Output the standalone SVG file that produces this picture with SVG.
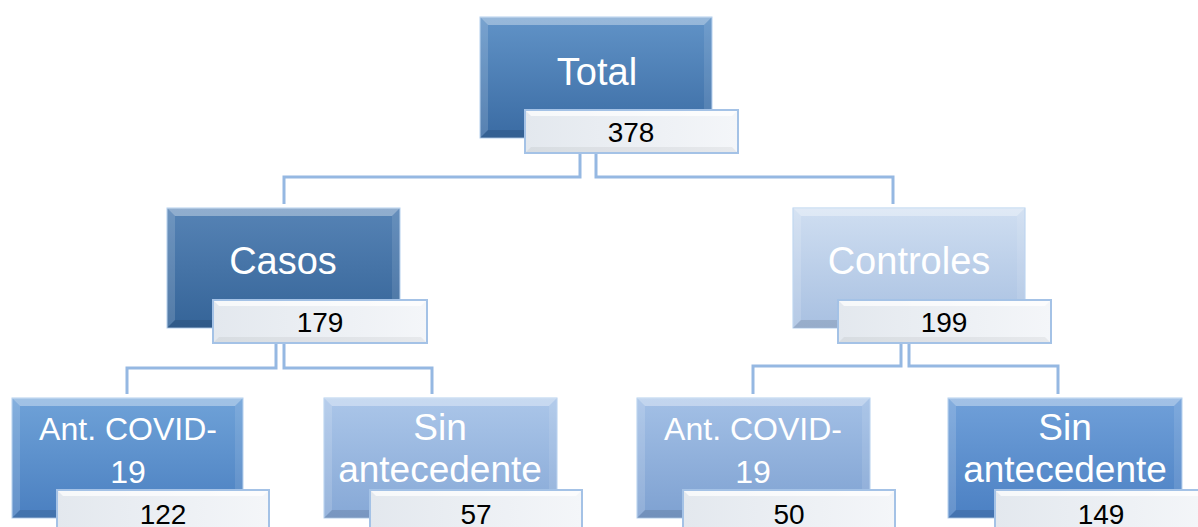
<svg xmlns="http://www.w3.org/2000/svg" width="1198" height="527" viewBox="0 0 1198 527">
<defs>
<linearGradient id="gTotal" x1="0" y1="0" x2="0" y2="1"><stop offset="0" stop-color="#6193c7"/><stop offset="1" stop-color="#3a6ba3"/></linearGradient>
<linearGradient id="gCasos" x1="0" y1="0" x2="0" y2="1"><stop offset="0" stop-color="#5683b5"/><stop offset="1" stop-color="#356498"/></linearGradient>
<linearGradient id="gCtrl" x1="0" y1="0" x2="0" y2="1"><stop offset="0" stop-color="#cfdef1"/><stop offset="1" stop-color="#a8c0e1"/></linearGradient>
<linearGradient id="gAntL" x1="0" y1="0" x2="0" y2="1"><stop offset="0" stop-color="#6fa2d8"/><stop offset="1" stop-color="#4a7fc0"/></linearGradient>
<linearGradient id="gSinM" x1="0" y1="0" x2="0" y2="1"><stop offset="0" stop-color="#abc6e9"/><stop offset="1" stop-color="#86a8d6"/></linearGradient>
<linearGradient id="gAntR" x1="0" y1="0" x2="0" y2="1"><stop offset="0" stop-color="#a3c0e6"/><stop offset="1" stop-color="#7ea1d1"/></linearGradient>
<linearGradient id="gSinR" x1="0" y1="0" x2="0" y2="1"><stop offset="0" stop-color="#70a0d9"/><stop offset="1" stop-color="#4b80c3"/></linearGradient>
<linearGradient id="gLbl" x1="0" y1="0" x2="1" y2="0"><stop offset="0" stop-color="#e3e8ee"/><stop offset="1" stop-color="#f4f6f9"/></linearGradient>
</defs>
<style>
.box{stroke:#b4cfee;stroke-width:1}
.bt{fill:#ffffff;fill-opacity:0.35}
.bl{fill:#ffffff;fill-opacity:0.15}
.br{fill:#ffffff;fill-opacity:0.10}
.bb{fill:#000000;fill-opacity:0.10}
.lbl{fill:url(#gLbl);stroke:#a4c2e6;stroke-width:2}
.lt{fill:#ffffff;fill-opacity:0.7}
.lb{fill:#000000;fill-opacity:0.05}
.conn{fill:none;stroke:#95b8e2;stroke-width:3}
.t1{font-family:"Liberation Sans",Arial,sans-serif;font-size:38px;fill:#ffffff;text-anchor:middle}
.t2{font-family:"Liberation Sans",Arial,sans-serif;font-size:32px;fill:#ffffff;text-anchor:middle}
.t3{font-family:"Liberation Sans",Arial,sans-serif;font-size:37px;fill:#ffffff;text-anchor:middle}
.num{font-family:"Liberation Sans",Arial,sans-serif;font-size:28px;fill:#000000;text-anchor:middle}
</style>

<g id="connectors">
<path class="conn" d="M580,153 V177 H284 V204"/>
<path class="conn" d="M596,153 V177 H893 V204"/>
<path class="conn" d="M276,343 V368 H127 V394"/>
<path class="conn" d="M284,343 V368 H432 V394"/>
<path class="conn" d="M901,343 V366 H753 V394"/>
<path class="conn" d="M909,343 V366 H1058 V394"/>
</g>

<g id="node-total">
<rect class="box" x="480" y="17" width="232" height="121" fill="url(#gTotal)"/>
<path class="bt" d="M480,17 h232 l-8,8 h-216 z"/>
<path class="bl" d="M480,17 l8,8 v105 l-8,8 z"/>
<path class="br" d="M712,17 v121 l-8,-8 v-105 z"/>
<path class="bb" d="M480,138 h232 l-8,-8 h-216 z"/>
<text class="t1" x="597" y="85">Total</text>
<rect class="lbl" x="525" y="110" width="213" height="43"/>
<path class="lt" d="M526,111 h211 l-5,5 h-201 z"/>
<path class="lb" d="M526,152 h211 l-5,-5 h-201 z"/>
<text class="num" x="631" y="142">378</text>
</g>

<g id="node-casos">
<rect class="box" x="167" y="208" width="233" height="120" fill="url(#gCasos)"/>
<path class="bt" d="M167,208 h233 l-8,8 h-217 z"/>
<path class="bl" d="M167,208 l8,8 v104 l-8,8 z"/>
<path class="br" d="M400,208 v120 l-8,-8 v-104 z"/>
<path class="bb" d="M167,328 h233 l-8,-8 h-217 z"/>
<text class="t1" x="283" y="274">Casos</text>
<rect class="lbl" x="213" y="300" width="214" height="43"/>
<path class="lt" d="M214,301 h212 l-5,5 h-202 z"/>
<path class="lb" d="M214,342 h212 l-5,-5 h-202 z"/>
<text class="num" x="320" y="332">179</text>
</g>

<g id="node-controles">
<rect class="box" x="793" y="208" width="232" height="120" fill="url(#gCtrl)"/>
<path class="bt" d="M793,208 h232 l-8,8 h-216 z"/>
<path class="bl" d="M793,208 l8,8 v104 l-8,8 z"/>
<path class="br" d="M1025,208 v120 l-8,-8 v-104 z"/>
<path class="bb" d="M793,328 h232 l-8,-8 h-216 z"/>
<text class="t1" x="909" y="274">Controles</text>
<rect class="lbl" x="838" y="300" width="213" height="43"/>
<path class="lt" d="M839,301 h211 l-5,5 h-201 z"/>
<path class="lb" d="M839,342 h211 l-5,-5 h-201 z"/>
<text class="num" x="944" y="332">199</text>
</g>

<g id="node-casos-antcovid">
<rect class="box" x="12" y="398" width="231" height="120" fill="url(#gAntL)"/>
<path class="bt" d="M12,398 h231 l-8,8 h-215 z"/>
<path class="bl" d="M12,398 l8,8 v104 l-8,8 z"/>
<path class="br" d="M243,398 v120 l-8,-8 v-104 z"/>
<path class="bb" d="M12,518 h231 l-8,-8 h-215 z"/>
<text class="t2" x="128" y="440">Ant. COVID-</text>
<text class="t2" x="128" y="483">19</text>
<rect class="lbl" x="57" y="490" width="212" height="43"/>
<path class="lt" d="M58,491 h210 l-5,5 h-200 z"/>
<text class="num" x="163" y="524">122</text>
</g>

<g id="node-casos-sin">
<rect class="box" x="324" y="398" width="233" height="120" fill="url(#gSinM)"/>
<path class="bt" d="M324,398 h233 l-8,8 h-217 z"/>
<path class="bl" d="M324,398 l8,8 v104 l-8,8 z"/>
<path class="br" d="M557,398 v120 l-8,-8 v-104 z"/>
<path class="bb" d="M324,518 h233 l-8,-8 h-217 z"/>
<text class="t3" x="440" y="440">Sin</text>
<text class="t3" x="440" y="482">antecedente</text>
<rect class="lbl" x="370" y="490" width="212" height="43"/>
<path class="lt" d="M371,491 h210 l-5,5 h-200 z"/>
<text class="num" x="476" y="524">57</text>
</g>

<g id="node-controles-antcovid">
<rect class="box" x="637" y="398" width="233" height="120" fill="url(#gAntR)"/>
<path class="bt" d="M637,398 h233 l-8,8 h-217 z"/>
<path class="bl" d="M637,398 l8,8 v104 l-8,8 z"/>
<path class="br" d="M870,398 v120 l-8,-8 v-104 z"/>
<path class="bb" d="M637,518 h233 l-8,-8 h-217 z"/>
<text class="t2" x="753" y="440">Ant. COVID-</text>
<text class="t2" x="753" y="483">19</text>
<rect class="lbl" x="683" y="490" width="212" height="43"/>
<path class="lt" d="M684,491 h210 l-5,5 h-200 z"/>
<text class="num" x="789" y="524">50</text>
</g>

<g id="node-controles-sin">
<rect class="box" x="948" y="398" width="234" height="120" fill="url(#gSinR)"/>
<path class="bt" d="M948,398 h234 l-8,8 h-218 z"/>
<path class="bl" d="M948,398 l8,8 v104 l-8,8 z"/>
<path class="br" d="M1182,398 v120 l-8,-8 v-104 z"/>
<path class="bb" d="M948,518 h234 l-8,-8 h-218 z"/>
<text class="t3" x="1065" y="440">Sin</text>
<text class="t3" x="1065" y="482">antecedente</text>
<rect class="lbl" x="995" y="490" width="212" height="43"/>
<path class="lt" d="M996,491 h210 l-5,5 h-200 z"/>
<text class="num" x="1101" y="524">149</text>
</g>
</svg>
